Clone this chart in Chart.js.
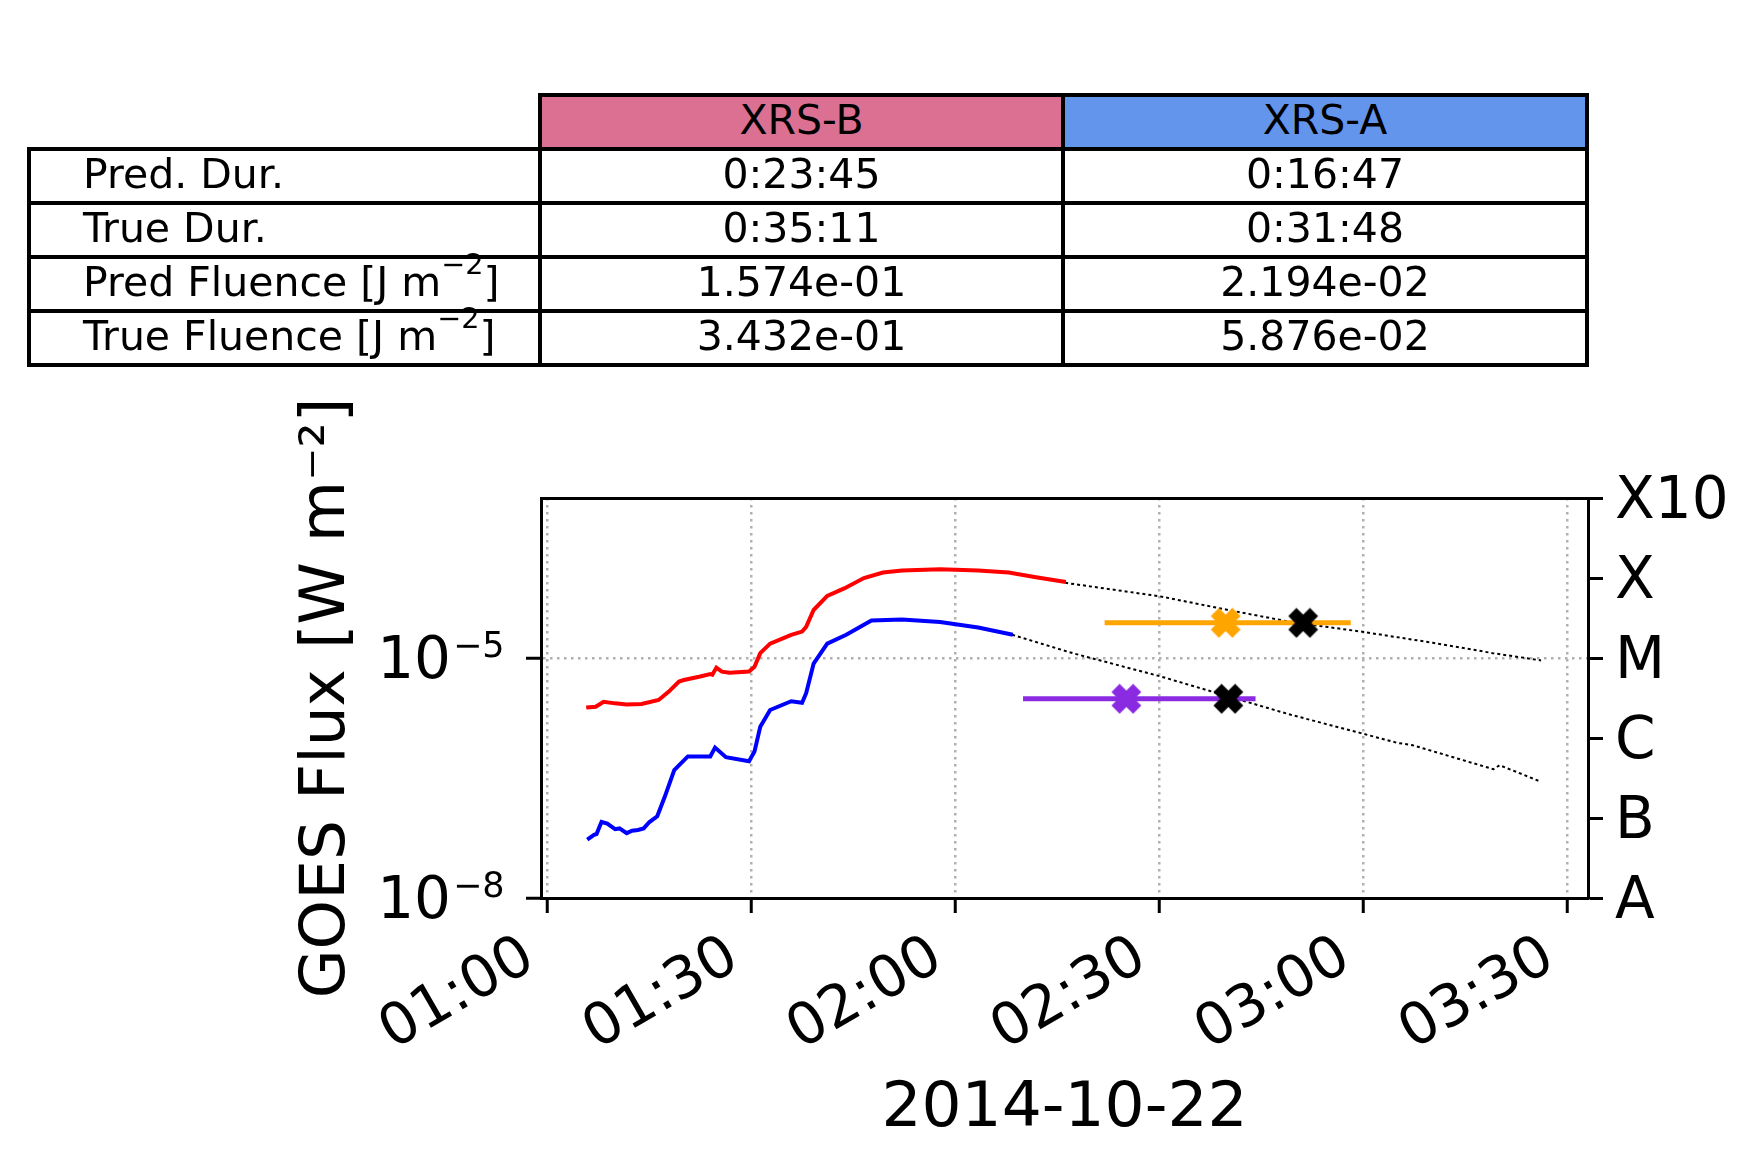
<!DOCTYPE html>
<html>
<head>
<meta charset="utf-8">
<script src="https://cdn.jsdelivr.net/npm/chart.js@4.4.1/dist/chart.umd.min.js"></script>
<style>
  html, body { margin: 0; padding: 0; background: #fff; }
  #wrap { position: relative; width: 1761px; height: 1167px; font-family: 'DejaVu Sans', sans-serif; }
  #wrap canvas { position: absolute; left: 0; top: 0; }
  .cell { position: absolute; box-sizing: border-box; border: 4px solid #000; display: flex; align-items: center;
          justify-content: center; font-size: 41px; line-height: 1; color: #000; padding-bottom: 4px; white-space: nowrap; }
  .cell.lbl { justify-content: flex-start; padding-left: 52px; }
  .cell sup { font-size: 0.7em; line-height: 0; vertical-align: 0.75em; }
</style>
</head>
<body>
<div id="wrap">
  <canvas id="flux" width="1761" height="1167"></canvas>
  <div id="table"></div>
</div>
<script>
// ---- data (time = minutes after 01:00 UT on 2014-10-22) ----
const xrsbTime = [5.75, 7.15, 8.3, 10.0, 11.7, 13.9, 16.4, 17.9, 19.4, 20.1, 22.35, 24.0, 24.3, 24.9, 25.7, 26.85, 29.7,
                  30.5, 31.35, 32.8, 35.9, 37.5, 38.1, 39.2, 41.2, 43.7, 46.6, 49.4, 52.2, 57.8, 63.4, 67.9, 71.9, 76.3];
const xrsbFlux = [2.40e-6, 2.46e-6, 2.84e-6, 2.71e-6, 2.63e-6, 2.66e-6, 2.99e-6, 3.80e-6, 5.07e-6, 5.31e-6, 5.82e-6,
                  6.31e-6, 6.17e-6, 7.59e-6, 6.76e-6, 6.53e-6, 6.76e-6, 7.76e-6, 1.15e-5, 1.51e-5, 1.95e-5, 2.14e-5,
                  2.45e-5, 3.98e-5, 5.96e-5, 7.41e-5, 1.00e-4, 1.17e-4, 1.24e-4, 1.29e-4, 1.24e-4, 1.17e-4, 1.02e-4, 8.91e-5];

const xrsaTime = [5.9, 6.9, 7.27, 8.0, 8.85, 10.0, 10.65, 11.7, 12.5, 13.35, 14.2, 15.05, 16.2, 17.3, 18.7, 20.7, 22.4,
                  24.0, 24.7, 26.3, 29.7, 30.5, 31.35, 32.8, 35.9, 37.5, 38.1, 39.2, 41.2, 44.0, 47.7, 52.2, 57.8, 63.4, 68.5];
const xrsaFlux = [5.37e-8, 6.17e-8, 6.31e-8, 8.91e-8, 8.51e-8, 7.24e-8, 7.41e-8, 6.46e-8, 6.92e-8, 7.08e-8, 7.41e-8,
                  8.91e-8, 1.05e-7, 1.84e-7, 3.98e-7, 5.89e-7, 5.89e-7, 5.89e-7, 7.59e-7, 5.75e-7, 5.13e-7, 6.76e-7,
                  1.38e-6, 2.24e-6, 2.88e-6, 2.75e-6, 3.63e-6, 8.51e-6, 1.51e-5, 1.95e-5, 2.95e-5, 3.02e-5, 2.82e-5,
                  2.40e-5, 1.95e-5];

// continuation of the curves after the observed part (dotted)
const xrsbRestTime = [76.2, 90.2, 100.2, 109.4, 119.7, 130.3, 139.1, 146.2];
const xrsbRestFlux = [8.71e-5, 5.89e-5, 3.98e-5, 2.82e-5, 2.14e-5, 1.55e-5, 1.15e-5, 9.33e-6];
const xrsaRestTime = [68.4, 77.3, 90.2, 100.2, 109.4, 119.7, 125.0, 127.3, 139.2, 140.1, 146.0];
const xrsaRestFlux = [1.95e-5, 1.15e-5, 5.89e-6, 3.31e-6, 1.95e-6, 1.15e-6, 8.71e-7, 8.13e-7, 4.07e-7, 4.57e-7, 2.88e-7];

// predicted peak (time, flux), its time range, and the true peak time
const xrsbPredPeak = [99.8, 2.75e-5];
const xrsbPredRange = [82.0, 118.2];
const xrsbTruePeak = [111.2, 2.75e-5];
const xrsaPredPeak = [85.2, 3.09e-6];
const xrsaPredRange = [70.0, 104.2];
const xrsaTruePeak = [100.2, 3.09e-6];

const timeTicks = [0, 30, 60, 90, 120, 150];
const fluxTicks = [1e-8, 1e-5];
const fluxTickExponents = ['\u22128', '\u22125'];
const classTicks = [1e-8, 1e-7, 1e-6, 1e-5, 1e-4, 1e-3];
const classLabels = ['A', 'B', 'C', 'M', 'X', 'X10'];

// table
const tableHeader = ['XRS-B', 'XRS-A'];
const tableHeaderColors = ['#db7093', '#6495ed'];
const rowLabels = ['Pred. Dur.', 'True Dur.', 'Pred Fluence [J m<sup>\u22122</sup>]', 'True Fluence [J m<sup>\u22122</sup>]'];
const xrsbValues = ['0:23:45', '0:35:11', '1.574e-01', '3.432e-01'];
const xrsaValues = ['0:16:47', '0:31:48', '2.194e-02', '5.876e-02'];

// ---- table ----
const colEdges = [29, 540, 1063, 1587];
const rowEdges = [95, 149, 203, 257, 311, 365];
const tbl = document.getElementById('table');
function addCell(c, r, html, cls, bg) {
  const d = document.createElement('div');
  d.className = 'cell' + (cls ? ' ' + cls : '');
  d.style.left = (colEdges[c] - 2) + 'px';
  d.style.top = (rowEdges[r] - 2) + 'px';
  d.style.width = (colEdges[c + 1] - colEdges[c] + 4) + 'px';
  d.style.height = (rowEdges[r + 1] - rowEdges[r] + 4) + 'px';
  if (bg) d.style.background = bg;
  d.innerHTML = '<span>' + html + '</span>';
  tbl.appendChild(d);
}
tableHeader.forEach((h, i) => addCell(i + 1, 0, h, '', tableHeaderColors[i]));
rowLabels.forEach((lab, i) => {
  addCell(0, i + 1, lab, 'lbl');
  addCell(1, i + 1, xrsbValues[i]);
  addCell(2, i + 1, xrsaValues[i]);
});

// ---- chart ----
const FONT = "'DejaVu Sans', sans-serif";
const AREA = { left: 541, right: 1588, top: 498, bottom: 898 };
const Y_PAD = 75;

function pts(ts, vs) { return ts.map((t, i) => ({ x: t, y: vs[i] })); }

function hhmm(v) {
  const m = 60 + v;
  return String(Math.floor(m / 60)).padStart(2, '0') + ':' + String(m % 60).padStart(2, '0');
}

// filled "X" marker like matplotlib's
function xMarker(color) {
  const size = 31;
  const c = document.createElement('canvas');
  c.width = c.height = size;
  const g = c.getContext('2d');
  const poly = [[0.25, 0], [0.5, 0.25], [0.75, 0], [1, 0.25], [0.75, 0.5], [1, 0.75],
                [0.75, 1], [0.5, 0.75], [0.25, 1], [0, 0.75], [0.25, 0.5], [0, 0.25]];
  g.beginPath();
  poly.forEach(([px, py], i) => {
    const x = 2 + px * (size - 4), y = 2 + py * (size - 4);
    i ? g.lineTo(x, y) : g.moveTo(x, y);
  });
  g.closePath();
  g.fillStyle = color;
  g.strokeStyle = color;
  g.lineWidth = 2;
  g.fill();
  g.stroke();
  return c;
}

function lineSet(data, color, width, dash, order) {
  return { type: 'line', data, borderColor: color, borderWidth: width, borderDash: dash, pointRadius: 0,
           tension: 0, fill: false, order, xAxisID: 'x', yAxisID: 'y' };
}
function markerSet(p, color) {
  return { type: 'scatter', data: [{ x: p[0], y: p[1] }], pointStyle: xMarker(color), pointRadius: 14,
           backgroundColor: color, borderColor: color, order: 0, xAxisID: 'x', yAxisID: 'y' };
}

// the "10" of the left tick labels comes from Chart.js, this adds the raised exponent
const exponentLabels = {
  id: 'exponentLabels',
  afterDraw(chart) {
    const s = chart.scales.y;
    const ctx = chart.ctx;
    ctx.save();
    ctx.font = '35px ' + FONT;
    ctx.fillStyle = '#000';
    ctx.textAlign = 'left';
    ctx.textBaseline = 'alphabetic';
    fluxTicks.forEach((v, i) => {
      ctx.fillText(fluxTickExponents[i], s.right - 15 - Y_PAD + 2, s.getPixelForValue(v) - 1);
    });
    ctx.restore();
  }
};

const gridStyle = { color: '#b0b0b0', lineWidth: 2.5, tickLength: 15, tickWidth: 3, tickColor: '#000' };
const borderStyle = { display: true, color: '#000', width: 3, dash: [2.5, 4.5] };

new Chart(document.getElementById('flux'), {
  data: {
    datasets: [
      markerSet(xrsbPredPeak, '#ffa500'),
      markerSet(xrsbTruePeak, '#000000'),
      markerSet(xrsaPredPeak, '#8a2be2'),
      markerSet(xrsaTruePeak, '#000000'),
      lineSet(pts(xrsbPredRange, [xrsbPredPeak[1], xrsbPredPeak[1]]), '#ffa500', 5, [], 1),
      lineSet(pts(xrsaPredRange, [xrsaPredPeak[1], xrsaPredPeak[1]]), '#8a2be2', 5, [], 1),
      lineSet(pts(xrsbTime, xrsbFlux), '#ff0000', 4, [], 2),
      lineSet(pts(xrsaTime, xrsaFlux), '#0000ff', 4, [], 2),
      lineSet(pts(xrsbRestTime, xrsbRestFlux), '#000000', 2, [3, 3], 2),
      lineSet(pts(xrsaRestTime, xrsaRestFlux), '#000000', 2, [3, 3], 2)
    ]
  },
  plugins: [exponentLabels],
  options: {
    responsive: false,
    animation: false,
    layout: { padding: { left: 283, top: AREA.top, right: 0, bottom: 0 } },
    plugins: { legend: { display: false }, tooltip: { enabled: false } },
    scales: {
      x: {
        type: 'linear', position: 'bottom', min: -0.9, max: 153.1,
        afterBuildTicks: s => { s.ticks = timeTicks.map(v => ({ value: v })); },
        afterFit: s => { s.height = 1167 - AREA.bottom; },
        ticks: { autoSkip: false, minRotation: 30, maxRotation: 30, padding: 10, labelOffset: -17, color: '#000',
                 font: { family: FONT, size: 58 }, callback: v => hhmm(v) },
        grid: gridStyle,
        border: borderStyle,
        title: { display: true, text: '2014-10-22', color: '#000', font: { family: FONT, size: 63 },
                 padding: { top: 0, bottom: 20 } }
      },
      xTop: {
        axis: 'x', type: 'linear', position: 'top', min: -0.9, max: 153.1,
        afterFit: s => { s.height = 0; },
        ticks: { display: false },
        grid: { display: false },
        border: { display: true, color: '#000', width: 3 }
      },
      y: {
        type: 'logarithmic', position: 'left', min: 1e-8, max: 1e-3,
        afterBuildTicks: s => { s.ticks = fluxTicks.map(v => ({ value: v })); },
        afterFit: s => { s.width = AREA.left - 283; },
        ticks: { color: '#000', padding: Y_PAD, labelOffset: 5, font: { family: FONT, size: 58 },
                 callback: () => '10' },
        grid: gridStyle,
        border: borderStyle,
        title: { display: true, text: 'GOES Flux [W m\u207B\u00B2]', color: '#000',
                 font: { family: FONT, size: 63 }, padding: { top: 7, bottom: 0 } }
      },
      yClass: {
        axis: 'y', type: 'logarithmic', position: 'right', min: 1e-8, max: 1e-3,
        afterBuildTicks: s => { s.ticks = classTicks.map(v => ({ value: v })); },
        afterFit: s => { s.width = 1761 - AREA.right; },
        ticks: { color: '#000', padding: 12, labelOffset: 5, font: { family: FONT, size: 58 },
                 callback: (v, i) => classLabels[i] },
        grid: { drawOnChartArea: false, tickLength: 15, tickWidth: 3, tickColor: '#000', color: '#000' },
        border: { display: true, color: '#000', width: 3 }
      }
    }
  }
});
</script>
</body>
</html>
